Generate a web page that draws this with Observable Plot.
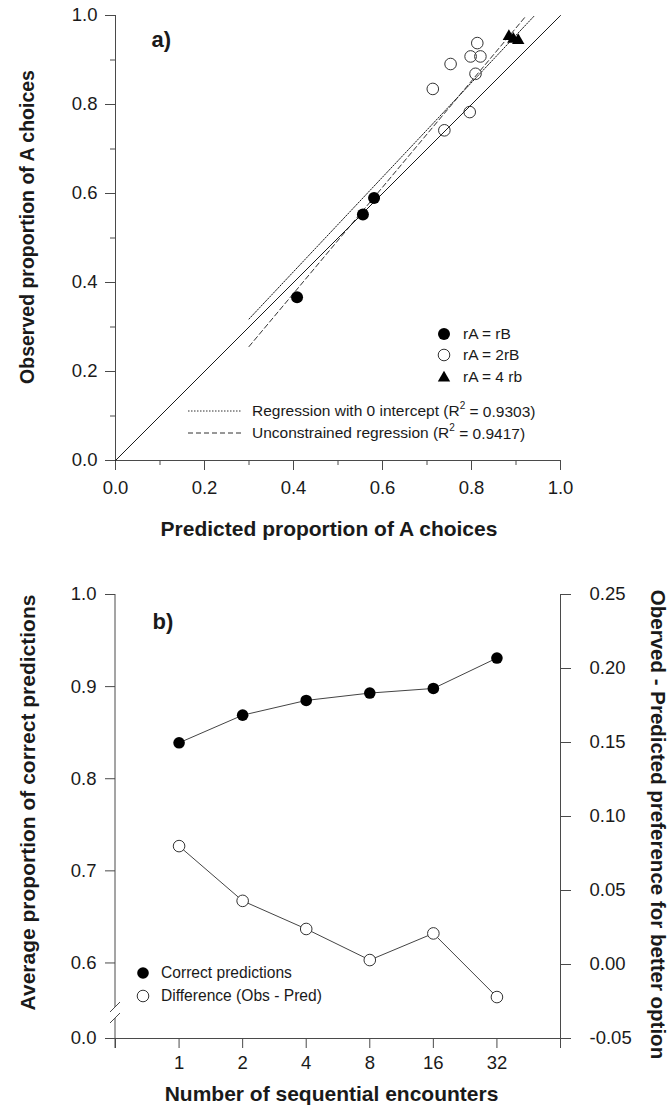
<!DOCTYPE html>
<html>
<head>
<meta charset="utf-8">
<script src="https://cdn.jsdelivr.net/npm/d3@7"></script>
<script src="https://cdn.jsdelivr.net/npm/@observablehq/plot@0.6"></script>
<style>
  html, body { margin: 0; padding: 0; background: #fff; }
  #root { position: relative; width: 670px; height: 1106px; overflow: hidden; }
  #root svg { position: absolute; left: 0; }
</style>
</head>
<body>
<div id="root"></div>
<script>
const FONT = "Arial, 'Liberation Sans', Helvetica, sans-serif";
const INK = "#1a1a1a";
const AXIS = "#4a4a4a";

// ---------- Panel a data ----------
const sameRatePred   = [0.408, 0.556, 0.581];
const sameRateObs    = [0.367, 0.553, 0.590];
const doubleRatePred = [0.713, 0.753, 0.813, 0.798, 0.820, 0.809, 0.796, 0.739];
const doubleRateObs  = [0.835, 0.891, 0.938, 0.908, 0.908, 0.869, 0.783, 0.742];
const quadRatePred   = [0.884, 0.894, 0.905];
const quadRateObs    = [0.953, 0.947, 0.944];
const identityX = [0, 1];
const identityY = [0, 1];
const zeroInterceptX = [0.30, 0.94];
const zeroInterceptY = [0.318, 0.998];
const unconstrainedX = [0.30, 0.92];
const unconstrainedY = [0.256, 0.996];
const majorTicksA = [0, 0.2, 0.4, 0.6, 0.8, 1.0];
const minorTicksA = [0.1, 0.3, 0.5, 0.7, 0.9];
const legendGroupsA = ["rA = rB", "rA = 2rB", "rA = 4 rb"];
const legendLinesA = [["Regression with 0 intercept (R", "2", " = 0.9303)"], ["Unconstrained regression (R", "2", " = 0.9417)"]];

// ---------- Panel b data ----------
const encounters = [1, 2, 4, 8, 16, 32];
const correctPredictions = [0.839, 0.869, 0.885, 0.893, 0.898, 0.931];
const obsMinusPred = [0.080, 0.043, 0.024, 0.003, 0.021, -0.022];
const leftBreakValue = 0.518;               // bottom of the broken left axis (labelled 0.0)
const leftTicksB = [leftBreakValue, 0.6, 0.7, 0.8, 0.9, 1.0];
const rightTicksB = [-0.05, 0, 0.05, 0.10, 0.15, 0.20, 0.25];
const xTicksB = [0.5, 1, 2, 4, 8, 16, 32, 64];
const legendB = ["Correct predictions", "Difference (Obs - Pred)"];

const rows = (xs, ys) => xs.map((x, i) => ({x, y: ys[i]}));

const root = document.getElementById("root");

// ================= Panel a =================
const A = Plot.plot({
  width: 670, height: 560,
  marginTop: 15, marginRight: 110, marginBottom: 100, marginLeft: 115,
  x: {domain: [0, 1]},
  y: {domain: [0, 1]},
  style: {fontFamily: FONT, fontSize: "18.5px", color: INK, background: "transparent", overflow: "visible"},
  marks: [
    Plot.axisX(majorTicksA, {tickSize: 10, tickPadding: 10, tickFormat: d => d.toFixed(1), label: null, stroke: AXIS}),
    Plot.axisX(minorTicksA, {tickSize: 5, tickFormat: () => "", label: null, stroke: AXIS}),
    Plot.axisY(majorTicksA, {tickSize: 10, tickPadding: 8, tickFormat: d => d.toFixed(1), label: null, stroke: AXIS}),
    Plot.axisY(minorTicksA, {tickSize: 5, tickFormat: () => "", label: null, stroke: AXIS}),
    Plot.ruleX([0], {y1: 0, y2: 1, stroke: AXIS}),
    Plot.ruleY([0], {x1: 0, x2: 1, stroke: AXIS}),
    Plot.line(rows(identityX, identityY), {x: "x", y: "y", stroke: INK, strokeWidth: 1}),
    Plot.line(rows(zeroInterceptX, zeroInterceptY), {x: "x", y: "y", stroke: INK, strokeWidth: 1, strokeDasharray: "1.5,1.5"}),
    Plot.line(rows(unconstrainedX, unconstrainedY), {x: "x", y: "y", stroke: INK, strokeWidth: 0.9, strokeDasharray: "5,3"}),
    Plot.dot(rows(sameRatePred, sameRateObs), {x: "x", y: "y", r: 6, fill: "#000", stroke: "none"}),
    Plot.dot(rows(doubleRatePred, doubleRateObs), {x: "x", y: "y", r: 5.8, fill: "none", stroke: "#333", strokeWidth: 1}),
    Plot.dot(rows(quadRatePred, quadRateObs), {x: "x", y: "y", r: 4.6, symbol: "triangle", fill: "#000", stroke: "none"}),
    Plot.text(["a)"], {frameAnchor: "top-left", dx: 36, dy: 31, textAnchor: "start", lineAnchor: "bottom", fontSize: 22, fontWeight: "bold", fill: INK}),
    Plot.text(["Predicted proportion of A choices"], {frameAnchor: "bottom", dx: -9, dy: 75, textAnchor: "middle", lineAnchor: "bottom", fontSize: 21, fontWeight: "bold", fill: INK}),
    Plot.text(["Observed proportion of A choices"], {frameAnchor: "left", rotate: -90, dx: -82, dy: -11, textAnchor: "middle", lineAnchor: "bottom", fontSize: 19.5, fontWeight: "bold", fill: INK})
  ]
});
A.style.top = "0px";
root.appendChild(A);

// legend of panel a
{
  const g = d3.select(A).append("g").attr("font-family", FONT).attr("font-size", 15.5)
    .attr("fill", INK).attr("text-anchor", "start");
  const ys = [334, 355, 377];
  legendGroupsA.forEach((label, i) => {
    if (i === 0) g.append("circle").attr("cx", 444).attr("cy", ys[i]).attr("r", 6).attr("fill", "#000");
    else if (i === 1) g.append("circle").attr("cx", 444).attr("cy", ys[i]).attr("r", 5.8).attr("fill", "none").attr("stroke", "#333");
    else g.append("path").attr("transform", `translate(444,${ys[i] + 1})`).attr("d", d3.symbol(d3.symbolTriangle, Math.PI * 4.6 * 4.6)()).attr("fill", "#000");
    g.append("text").attr("x", 463).attr("y", ys[i]).attr("dy", "0.35em").text(label);
  });
  const ly = [411, 433];
  const dashes = ["1.5,1.5", "5,3"];
  legendLinesA.forEach((parts, i) => {
    g.append("line").attr("x1", 188).attr("x2", 242).attr("y1", ly[i]).attr("y2", ly[i])
      .attr("stroke", INK).attr("stroke-width", 0.9).attr("stroke-dasharray", dashes[i]);
    const t = g.append("text").attr("x", 252).attr("y", ly[i]).attr("dy", "0.35em");
    t.append("tspan").text(parts[0]);
    t.append("tspan").attr("font-size", 10).attr("dy", "-0.75em").text(parts[1]);
    t.append("tspan").attr("dy", "0.5em").text(parts[2]);
  });
}

// ================= Panel b =================
const commonB = {
  width: 670, height: 546,
  marginTop: 34, marginRight: 110, marginBottom: 68, marginLeft: 115,
  style: {fontFamily: FONT, fontSize: "18.5px", color: INK, background: "transparent", overflow: "visible"}
};

const B1 = Plot.plot({
  ...commonB,
  x: {type: "log", base: 2, domain: [0.5, 64]},
  y: {domain: [leftBreakValue, 1.0]},
  marks: [
    Plot.axisX(xTicksB, {tickSize: 10, tickPadding: 7, tickFormat: d => (d >= 1 && d <= 32 ? String(d) : ""), label: null, stroke: AXIS}),
    Plot.axisY(leftTicksB, {tickSize: 10, tickPadding: 9, tickFormat: d => (d < 0.55 ? "0.0" : d.toFixed(1)), label: null, stroke: AXIS}),
    Plot.ruleY([leftBreakValue], {x1: 0.5, x2: 64, stroke: AXIS}),
    Plot.line(rows(encounters, correctPredictions), {x: "x", y: "y", stroke: "#444", strokeWidth: 1}),
    Plot.dot(rows(encounters, correctPredictions), {x: "x", y: "y", r: 5.8, fill: "#000", stroke: "none"}),
    Plot.text(["b)"], {frameAnchor: "top-left", dx: 37, dy: 34, textAnchor: "start", lineAnchor: "bottom", fontSize: 22, fontWeight: "bold", fill: INK}),
    Plot.text(["Number of sequential encounters"], {frameAnchor: "bottom", dx: -6.5, dy: 62, textAnchor: "middle", lineAnchor: "bottom", fontSize: 21, fontWeight: "bold", fill: INK}),
    Plot.text(["Average proportion of correct predictions"], {frameAnchor: "left", rotate: -90, dx: -81, dy: -14, textAnchor: "middle", lineAnchor: "bottom", fontSize: 21, fontWeight: "bold", fill: INK})
  ]
});
B1.style.top = "560px";
root.appendChild(B1);

const B2 = Plot.plot({
  ...commonB,
  x: {type: "log", base: 2, domain: [0.5, 64], axis: null},
  y: {domain: [-0.05, 0.25]},
  marks: [
    Plot.axisY(rightTicksB, {anchor: "right", tickSize: 10, tickPadding: 19, tickFormat: d => d.toFixed(2), label: null, stroke: AXIS}),
    Plot.ruleX([64], {y1: -0.05, y2: 0.25, stroke: AXIS}),
    Plot.line(rows(encounters, obsMinusPred), {x: "x", y: "y", stroke: "#444", strokeWidth: 1}),
    Plot.dot(rows(encounters, obsMinusPred), {x: "x", y: "y", r: 5.8, fill: "#fff", stroke: "#333", strokeWidth: 1}),
    Plot.text(["Oberved - Predicted preference for better option"], {frameAnchor: "right", rotate: 90, dx: 90, dy: 8, textAnchor: "middle", lineAnchor: "bottom", fontSize: 20.5, fontWeight: "bold", fill: INK})
  ]
});
B2.style.top = "560px";
root.appendChild(B2);

// broken left axis line + legend of panel b
{
  const xs = B1.scale("x"), ys = B1.scale("y");
  const ax = xs.apply(0.5);
  const yTop = ys.apply(1.0), yBot = ys.apply(leftBreakValue);
  const g = d3.select(B1).append("g").attr("stroke", AXIS).attr("fill", "none");
  g.append("line").attr("x1", ax).attr("x2", ax).attr("y1", yTop).attr("y2", yBot - 31);
  g.append("line").attr("x1", ax).attr("x2", ax).attr("y1", yBot - 20).attr("y2", yBot + 10);
  g.append("line").attr("x1", ax - 5).attr("x2", ax + 5).attr("y1", yBot - 26).attr("y2", yBot - 36);
  g.append("line").attr("x1", ax - 5).attr("x2", ax + 5).attr("y1", yBot - 15).attr("y2", yBot - 25);

  const lg = d3.select(B2).append("g").attr("font-family", FONT).attr("font-size", 15.6)
    .attr("fill", INK).attr("text-anchor", "start");
  const ly = [413, 436];
  legendB.forEach((label, i) => {
    lg.append("circle").attr("cx", 143).attr("cy", ly[i]).attr("r", 5.8)
      .attr("fill", i === 0 ? "#000" : "#fff").attr("stroke", i === 0 ? "none" : "#333");
    lg.append("text").attr("x", 161).attr("y", ly[i]).attr("dy", "0.35em").text(label);
  });
}
</script>
</body>
</html>
